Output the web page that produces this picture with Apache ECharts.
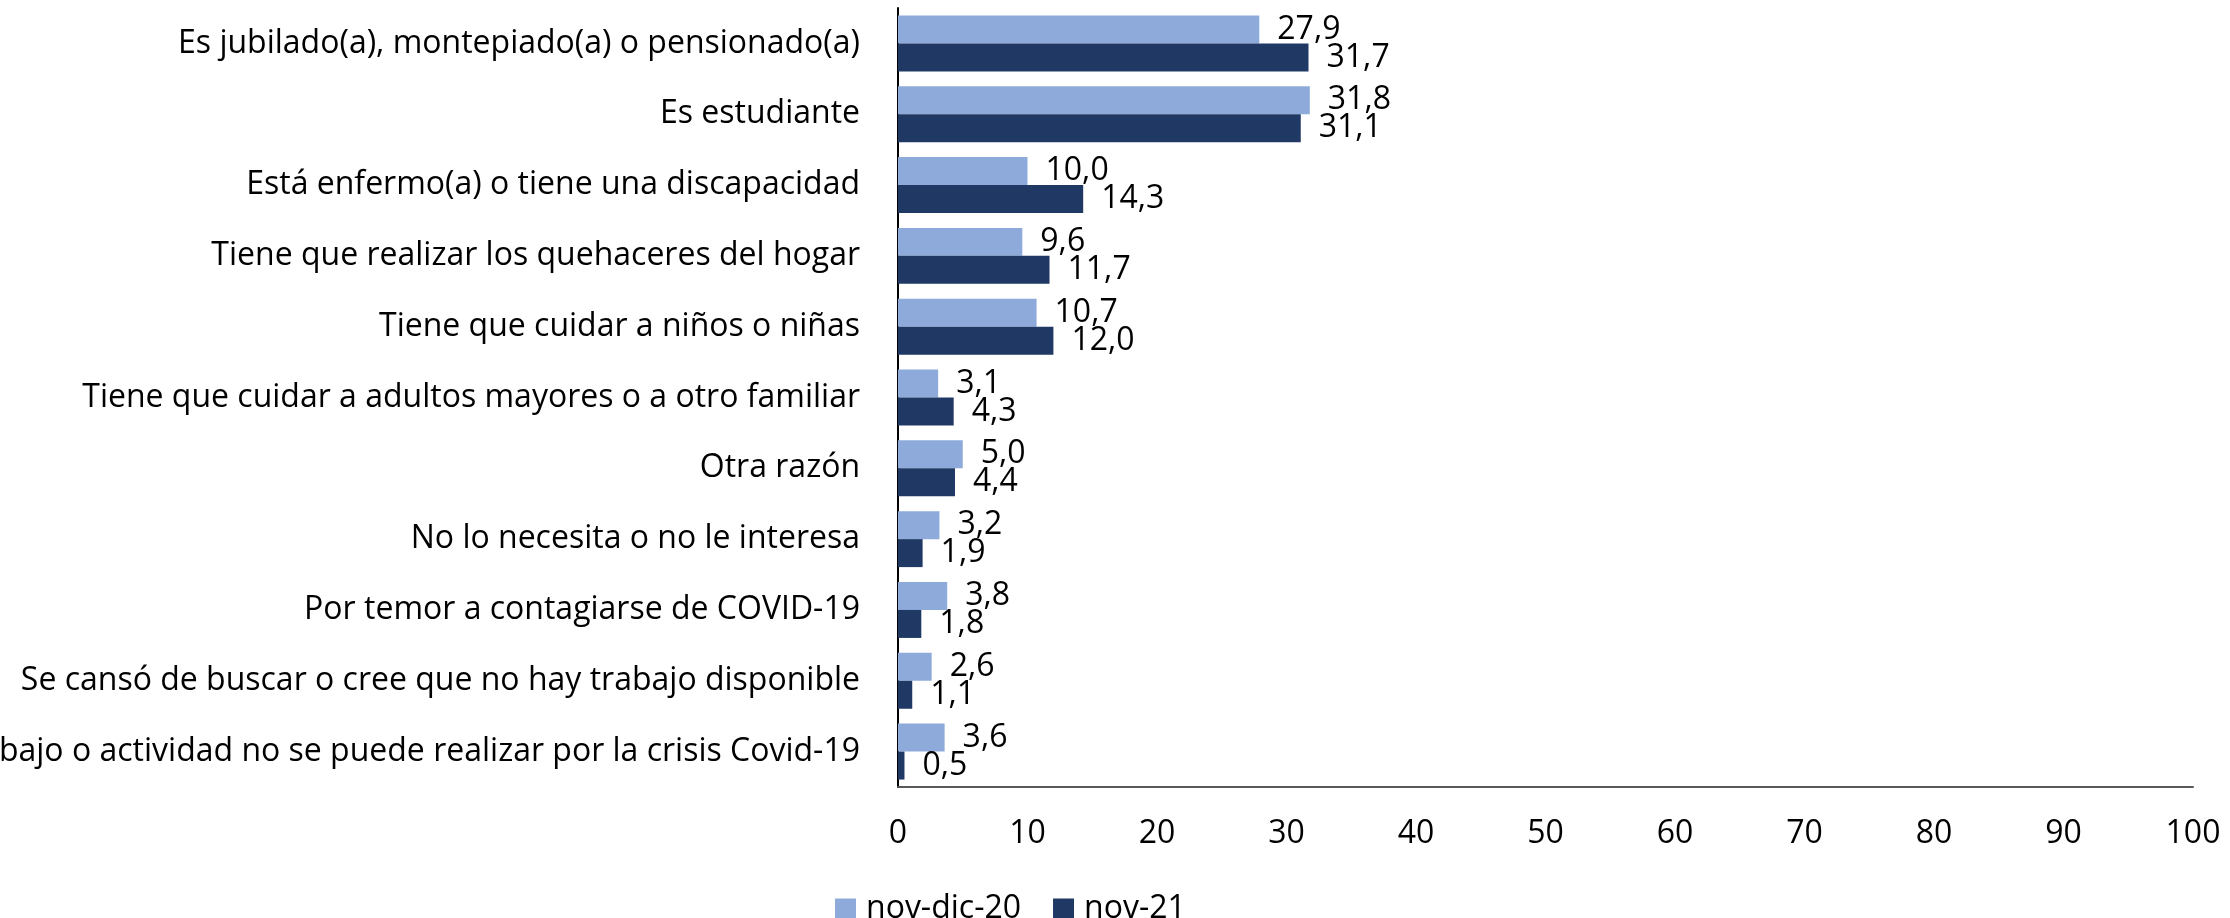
<!DOCTYPE html>
<html>
<head>
<meta charset="utf-8">
<script src="https://cdn.jsdelivr.net/npm/echarts@6/dist/echarts.min.js"></script>
<style>
  html, body { margin: 0; padding: 0; background: #fff; }
  #chart { width: 2230px; height: 918px; }
</style>
</head>
<body>
<div id="chart"></div>
<script>
// Reasons for not looking for work (%), two survey rounds
const categories = [
  'Es jubilado(a), montepiado(a) o pensionado(a)',
  'Es estudiante',
  'Está enfermo(a) o tiene una discapacidad',
  'Tiene que realizar los quehaceres del hogar',
  'Tiene que cuidar a niños o niñas',
  'Tiene que cuidar a adultos mayores o a otro familiar',
  'Otra razón',
  'No lo necesita o no le interesa',
  'Por temor a contagiarse de COVID-19',
  'Se cansó de buscar o cree que no hay trabajo disponible',
  'Su trabajo o actividad no se puede realizar por la crisis Covid-19'
];
const seriesNames = ['nov-dic-20', 'nov-21'];
const novDic20 = [27.9, 31.8, 10.0, 9.6, 10.7, 3.1, 5.0, 3.2, 3.8, 2.6, 3.6];
const nov21 = [31.7, 31.1, 14.3, 11.7, 12.0, 4.3, 4.4, 1.9, 1.8, 1.1, 0.5];

const FONT = 'Open Sans';
const SIZE = 32;
const fmt = v => v.value.toFixed(1).replace('.', ',');

const chart = echarts.init(document.getElementById('chart'));
chart.setOption({
  animation: false,
  textStyle: { fontFamily: FONT },
  grid: { left: 898, right: 37, top: 8, bottom: 131, containLabel: false, outerBoundsMode: 'none' },
  legend: {
    data: seriesNames,
    left: 835,
    top: 893,
    padding: 0,
    itemWidth: 21,
    itemHeight: 21,
    itemGap: 32,
    icon: 'rect',
    textStyle: { fontFamily: FONT, fontSize: SIZE, color: '#000', lineHeight: 21, padding: [0, 0, 0, 5] }
  },
  xAxis: {
    type: 'value',
    min: 0,
    max: 100,
    interval: 10,
    axisLine: { show: true, lineStyle: { color: '#595959', width: 2 } },
    axisTick: { show: false },
    splitLine: { show: false },
    axisLabel: { fontFamily: FONT, fontSize: SIZE, color: '#000', margin: 31 }
  },
  yAxis: {
    type: 'category',
    inverse: true,
    data: categories,
    axisLine: { show: true, lineStyle: { color: '#000', width: 2 } },
    axisTick: { show: false },
    axisLabel: { fontFamily: FONT, fontSize: SIZE, color: '#000', margin: 38 }
  },
  series: [
    {
      name: seriesNames[0],
      type: 'bar',
      data: novDic20,
      barGap: '0%',
      barCategoryGap: '21%',
      itemStyle: { color: '#8EAADB' },
      label: { show: true, position: 'right', distance: 18, formatter: fmt,
               fontFamily: FONT, fontSize: SIZE, color: '#000' }
    },
    {
      name: seriesNames[1],
      type: 'bar',
      data: nov21,
      barGap: '0%',
      barCategoryGap: '21%',
      itemStyle: { color: '#203864' },
      label: { show: true, position: 'right', distance: 18, formatter: fmt,
               fontFamily: FONT, fontSize: SIZE, color: '#000' }
    }
  ]
});
</script>
</body>
</html>
